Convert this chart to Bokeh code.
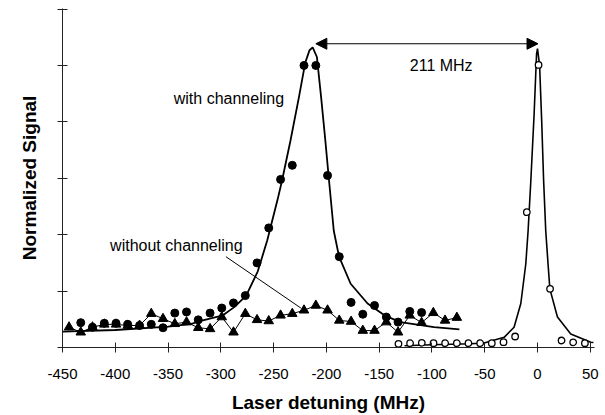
from bokeh.plotting import figure
from bokeh.models import Range1d, FixedTicker, Label, Arrow, NormalHead
from bokeh.embed import file_html
from bokeh.resources import INLINE

# ---------------- data ----------------
# "with channeling" data (filled circles), MHz / normalized signal
with_x = [-432.7, -421.6, -410.4, -399.3, -388.2, -377.0, -365.9, -354.8, -343.6, -332.5,
          -321.4, -310.2, -299.1, -288.0, -276.8, -265.7, -254.6, -243.4, -232.3, -221.2,
          -210.0, -198.9, -187.8, -176.6, -165.5, -154.4, -143.2, -132.1, -121.0, -109.8]
with_y = [0.44, 0.36, 0.43, 0.43, 0.41, 0.39, 0.41, 0.35, 0.61, 0.63,
          0.49, 0.61, 0.70, 0.79, 0.92, 1.50, 2.12, 2.98, 3.23, 5.00,
          5.00, 3.05, 1.61, 0.80, 0.59, 0.745, 0.54, 0.45, 0.64, 0.62]

# "without channeling" data (triangles)
without_x = [-443.8, -432.7, -421.6, -410.4, -399.3, -388.2, -377.0, -365.9, -354.8, -343.6,
             -332.5, -321.4, -310.2, -299.1, -288.0, -276.8, -265.7, -254.6, -243.4, -232.3,
             -221.2, -210.0, -198.9, -187.8, -176.6, -165.5, -154.4, -143.2, -132.1, -121.0,
             -109.8, -98.7, -87.6, -76.4]
without_y = [0.36, 0.27, 0.36, 0.41, 0.41, 0.39, 0.39, 0.60, 0.51, 0.42,
             0.45, 0.35, 0.33, 0.54, 0.27, 0.60, 0.49, 0.47, 0.57, 0.60,
             0.66, 0.745, 0.66, 0.48, 0.46, 0.30, 0.30, 0.45, 0.27, 0.57,
             0.44, 0.615, 0.48, 0.53]

# reference (open circles)
ref_x = [-131.7, -120.7, -109.6, -98.5, -87.5, -76.4, -65.4, -54.3, -43.3, -32.2,
         -21.2, -10.1, 1.0, 11.9, 22.8, 33.8, 44.9]
ref_y = [0.066, 0.076, 0.083, 0.076, 0.076, 0.076, 0.076, 0.076, 0.076, 0.094,
         0.195, 2.40, 5.01, 1.04, 0.124, 0.092, 0.076]

fit1_x = [-450, -400, -350, -328, -319, -298, -287, -276, -265, -256, -246, -242,
          -234, -226, -220, -216, -213, -209, -205, -201, -197.5, -193, -188,
          -177, -161, -145, -130, -98, -74]
fit1_y = [0.28, 0.31, 0.37, 0.42, 0.47, 0.57, 0.72, 0.92, 1.35, 1.90, 2.64, 2.96,
          3.67, 4.44, 5.05, 5.27, 5.32, 5.15, 4.44, 3.67, 2.96, 2.07, 1.61,
          1.13, 0.78, 0.57, 0.45, 0.36, 0.32]

fit2_x = [-126, -100, -63, -50.6, -31.6, -22.2, -15.8, -11.1, -8.9, -6.3, -3.2, -0.9, 0.0,
          2.0, 4.0, 5.8, 7.8, 10.0, 11.7, 18.9, 31.5, 50.5, 53.0]
fit2_y = [0.03, 0.05, 0.066, 0.08, 0.18, 0.36, 0.78, 1.48, 2.07, 2.96, 4.14, 5.2, 5.30,
          5.0, 4.0, 2.96, 2.07, 1.48, 1.04, 0.54, 0.24, 0.094, 0.09]

x_ticks = [-450, -400, -350, -300, -250, -200, -150, -100, -50, 0, 50]
x_tick_labels = ["-450", "-400", "-350", "-300", "-250", "-200", "-150", "-100", "-50", "0", "50"]
y_ticks = [0, 1, 2, 3, 4, 5, 6]

FONT = "Liberation Sans"

p = figure(width=605, height=415, x_range=Range1d(-450, 54), y_range=Range1d(0, 6.01),
           output_backend="svg", toolbar_location=None,
           min_border_left=62, min_border_right=11, min_border_top=8, min_border_bottom=68)
p.grid.visible = False
p.outline_line_color = None
p.background_fill_color = "white"

# axes
p.xaxis.ticker = FixedTicker(ticks=x_ticks)
p.yaxis.ticker = FixedTicker(ticks=y_ticks)
for ax in (p.xaxis[0], p.yaxis[0]):
    ax.axis_line_color = "#222222"
    ax.major_tick_line_color = "#222222"
    ax.major_tick_in = 5
    ax.major_tick_out = 5
    ax.minor_tick_line_color = None
    ax.axis_label_text_font = FONT
    ax.axis_label_text_font_style = "bold"
    ax.axis_label_text_font_size = "19px"
    ax.axis_label_text_color = "black"
    ax.major_label_text_font = FONT
    ax.major_label_text_color = "black"

p.xaxis.axis_label = "Laser detuning (MHz)"
p.xaxis.major_label_overrides = {t: s for t, s in zip(x_ticks, x_tick_labels)}
p.xaxis.major_label_text_font_size = "15px"
p.xaxis.major_label_standoff = 16
p.xaxis.axis_label_standoff = 10

p.yaxis.axis_label = "Normalized Signal"
p.yaxis.major_label_overrides = {t: "" for t in y_ticks}
p.yaxis.major_label_text_font_size = "15px"
p.yaxis.major_label_standoff = 0
p.yaxis.axis_label_standoff = 18

# curves
p.line(fit1_x, fit1_y, line_color="black", line_width=1.8)
p.line(fit2_x, fit2_y, line_color="black", line_width=1.6)
p.line(without_x, without_y, line_color="black", line_width=1)

# markers
p.scatter(without_x, without_y, marker="triangle", size=9.5, fill_color="black", line_color="black")
p.scatter(with_x, with_y, marker="circle", size=8, fill_color="black", line_color="black")
p.scatter(ref_x, ref_y, marker="circle", size=6.5, fill_color="white", line_color="black", line_width=1.3)

# leader line for "without channeling"
p.line([-295.2, -224.2], [1.61, 0.70], line_color="black", line_width=1)

# arrow for splitting
p.add_layout(Arrow(x_start=-210, y_start=5.385, x_end=0.5, y_end=5.385,
                   line_color="black", line_width=1.2,
                   start=NormalHead(size=11, fill_color="black", line_color="black"),
                   end=NormalHead(size=11, fill_color="black", line_color="black")))

# text annotations
for x, y, t in [(-344.6, 4.41, "with channeling"),
                (-404.9, 1.80, "without channeling"),
                (-121.0, 5.00, "211 MHz")]:
    p.add_layout(Label(x=x, y=y, text=t, text_font=FONT, text_font_size="16px",
                       text_color="black", text_baseline="alphabetic", text_align="left"))

open("out.html", "w").write(file_html(p, INLINE))
